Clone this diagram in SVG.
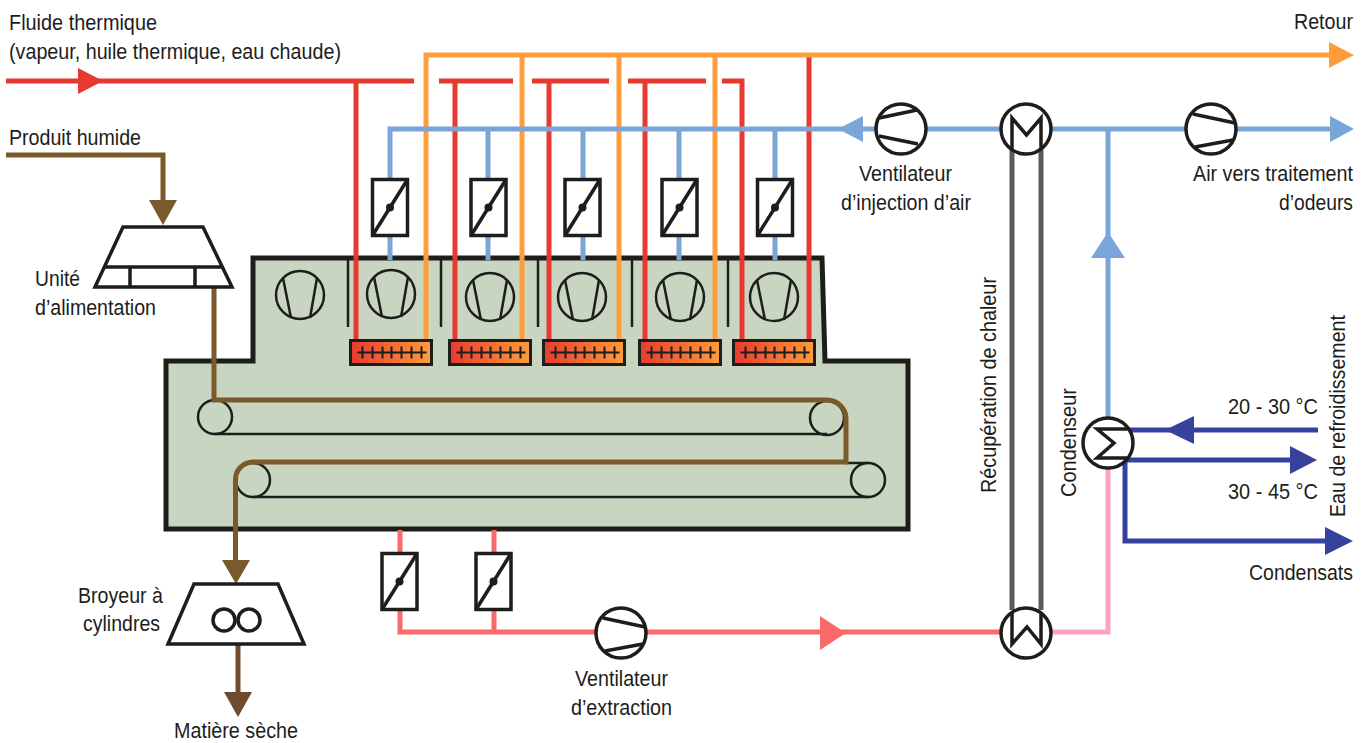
<svg xmlns="http://www.w3.org/2000/svg" xmlns:xlink="http://www.w3.org/1999/xlink" width="1371" height="743" viewBox="0 0 1371 743">
<style>
.t{font-family:"Liberation Sans",Arial,sans-serif;font-size:21.500px;fill:#1d1d1b}
.l{fill:none;stroke-linejoin:miter}
.red{stroke:#e63a30;stroke-width:5}
.org{stroke:#ff9d3b;stroke-width:5}
.blu{stroke:#7aa5d8;stroke-width:5}
.sal{stroke:#fb6a6a;stroke-width:5}
.pnk{stroke:#ffa3bd;stroke-width:5}
.nav{stroke:#36429c;stroke-width:5}
.bro{stroke:#7a5a2b;stroke-width:5}
.dbr{stroke:#6f4a2d;stroke-width:5}
.gry{stroke:#5a5a58;stroke-width:5}
.k{fill:none;stroke:#1d1d1b;stroke-width:2.500}
.k2{fill:none;stroke:#1d1d1b;stroke-width:3.500}
.kw{fill:#fff;stroke:#1d1d1b;stroke-width:3.500}
</style>
<defs>
<linearGradient id="hg" x1="0" x2="1" y1="0" y2="0"><stop offset="0" stop-color="#e63a30"/><stop offset="1" stop-color="#ff9d3b"/></linearGradient>
<g id="fanV"><circle r="24" class="k"/><path d="M-17-17L-9 23M17-17L10 23" class="k"/></g>
<g id="fanH1"><circle r="25" class="kw"/><path d="M-22-11L16-19M-22 7L17 15" class="k2"/></g>
<g id="fanH2"><circle r="25" class="kw"/><path d="M-18-15L24-6M-16 18L22 11" class="k2"/></g>
<g id="damper"><rect x="-17.500" y="-28" width="35" height="56" class="kw"/><path d="M-17.500 28L17.500-28" class="k2"/><circle r="4" fill="#1d1d1b"/></g>
<g id="heater"><rect x="0" y="0" width="81" height="24" fill="url(#hg)" stroke="#1d1d1b" stroke-width="3"/><path d="M7 12H76M12 6V18M22 6V18M32 6V18M41 6V18M51 6V18M61 6V18M71 6V18" fill="none" stroke="#1d1d1b" stroke-width="2"/></g>
</defs>

<g id="dryer-body">
<path d="M166 361H253V258H822L825 361H908V529H166Z" fill="#c8d6c1" stroke="#1d1d1b" stroke-width="5"/>
<path d="M348 258V327M441 258V327M538 258V327M632 258V327M728 258V327" class="k"/>
</g>
<g id="fans-internal">
<use xlink:href="#fanV" href="#fanV" x="300" y="295"/>
<use xlink:href="#fanV" href="#fanV" x="391" y="294"/>
<use xlink:href="#fanV" href="#fanV" x="490" y="297"/>
<use xlink:href="#fanV" href="#fanV" x="582" y="297"/>
<use xlink:href="#fanV" href="#fanV" x="680" y="297"/>
<use xlink:href="#fanV" href="#fanV" x="774" y="297"/>
</g>
<g id="belts">
<path d="M215 434H827M253 497H868M846 463H868" class="k"/>
<circle cx="215" cy="417" r="17" class="k"/>
<circle cx="827" cy="418" r="17" class="k"/>
<circle cx="253" cy="480" r="17" class="k"/>
<circle cx="868" cy="480" r="17" class="k"/>
</g>

<g id="connectors">
<g id="steam">
<path d="M6 81H414M439 81H513M532 81H609M628 81H706M722 81H742V340" class="l red"/>
<path d="M356 81V340M455 81V340M549 81V340M645 81V340M809 57V340" class="l red"/>
<path d="M78 68L103 81L78 94Z" fill="#e63a30"/>
</g>
<g id="return">
<path d="M426 340V55H1332M522 55V340M619 55V340M715 55V340" class="l org"/>
<path d="M1329 42L1354 55L1329 68Z" fill="#ff9d3b"/>
</g>
<g id="air-in">
<path d="M390 179V129H876M488 129V179M583 129V179M679 129V179M775 129V179" class="l blu"/>
<path d="M390 236V260M488 236V260M583 236V260M679 236V260M775 236V260" class="l blu"/>
<path d="M926 129H1003M1050 129H1187M1237 129H1332M1108 129V418" class="l blu"/>
<path d="M838 129L863 116V142Z" fill="#7aa5d8"/>
<path d="M1330 116L1354 129L1330 142Z" fill="#7aa5d8"/>
<path d="M1091 258L1108 232L1125 258Z" fill="#7aa5d8"/>
</g>
<g id="air-out">
<path d="M400 530V553M494 530V553M400 610V632H597M494 610V632M647 632H1003" class="l sal"/>
<path d="M820 616L846 633L820 650Z" fill="#fb6a6a"/>
<path d="M1050 632H1108V468" class="l pnk"/>
</g>
<g id="heat-recovery">
<path d="M1012 150V610M1041 150V610" class="l gry"/>
</g>
<g id="cooling">
<path d="M1128 430H1318M1125 460H1292M1125 460V541H1327" class="l nav"/>
<path d="M1165 430L1194 416V444Z" fill="#36429c"/>
<path d="M1290 446L1317 460L1290 474Z" fill="#36429c"/>
<path d="M1325 527L1353 541L1325 555Z" fill="#36429c"/>
</g>
<g id="product">
<path d="M6 155H163V202" class="l bro"/>
<path d="M149 200H177L163 225Z" fill="#7a5a2b"/>
<path d="M214 288V400H827A19 19 0 0 1 846 419V462H253A17.500 17.500 0 0 0 235.500 480V562" class="l bro"/>
<path d="M222 560H250L236 584Z" fill="#7a5a2b"/>
<path d="M238 645V694" class="l dbr"/>
<path d="M224 692H252L238 717Z" fill="#6f4a2d"/>
</g>
</g>

<g id="heaters">
<use xlink:href="#heater" href="#heater" x="350.500" y="340.500"/>
<use xlink:href="#heater" href="#heater" x="449.500" y="340.500"/>
<use xlink:href="#heater" href="#heater" x="543.500" y="340.500"/>
<use xlink:href="#heater" href="#heater" x="639.500" y="340.500"/>
<use xlink:href="#heater" href="#heater" x="733.500" y="340.500"/>
</g>
<g id="dampers">
<use xlink:href="#damper" href="#damper" x="390" y="207.500"/>
<use xlink:href="#damper" href="#damper" x="488.500" y="207.500"/>
<use xlink:href="#damper" href="#damper" x="582.500" y="207.500"/>
<use xlink:href="#damper" href="#damper" x="679.500" y="207.500"/>
<use xlink:href="#damper" href="#damper" x="775" y="207.500"/>
<use xlink:href="#damper" href="#damper" x="399.500" y="581.500"/>
<use xlink:href="#damper" href="#damper" x="493.500" y="581.500"/>
</g>
<g id="fan-injection"><use xlink:href="#fanH1" href="#fanH1" x="901" y="129"/></g>
<g id="fan-treatment"><use xlink:href="#fanH2" href="#fanH2" x="1211" y="129"/></g>
<g id="fan-extraction"><use xlink:href="#fanH2" href="#fanH2" x="621" y="633"/></g>
<g id="exchanger-top">
<circle cx="1026" cy="129" r="25" class="kw"/>
<path d="M1012 150V118L1026.500 135L1041 118V150" class="k2"/>
</g>
<g id="exchanger-bottom">
<circle cx="1026" cy="633" r="25" class="kw"/>
<path d="M1012 612V644L1027 627L1041 644V612" class="k2"/>
</g>
<g id="condenser">
<circle cx="1108" cy="443" r="25" class="kw"/>
<path d="M1128 429H1097L1114 443L1097 458H1128" class="k2"/>
</g>
<g id="feed-unit">
<path d="M123 227H203L232 287H95Z" fill="#fff" stroke="#1d1d1b" stroke-width="3.500"/>
<path d="M104 267H223M130 267V287M195 267V287" class="k2"/>
</g>
<g id="mill">
<path d="M194 584H278L304 644H168Z" fill="#fff" stroke="#1d1d1b" stroke-width="3.500"/>
<circle cx="224" cy="620" r="11" class="k2"/>
<circle cx="249" cy="620" r="11" class="k2"/>
</g>

<g id="labels">
<text class="t" x="9" y="30" textLength="148" lengthAdjust="spacingAndGlyphs">Fluide thermique</text>
<text class="t" x="9" y="59" textLength="332" lengthAdjust="spacingAndGlyphs">(vapeur, huile thermique, eau chaude)</text>
<text class="t" x="1294" y="29" textLength="59" lengthAdjust="spacingAndGlyphs">Retour</text>
<text class="t" x="9" y="145" textLength="132" lengthAdjust="spacingAndGlyphs">Produit humide</text>
<text class="t" x="35" y="286" textLength="45" lengthAdjust="spacingAndGlyphs">Unité</text>
<text class="t" x="35" y="315" textLength="121" lengthAdjust="spacingAndGlyphs">d’alimentation</text>
<text class="t" x="859" y="181" textLength="93" lengthAdjust="spacingAndGlyphs">Ventilateur</text>
<text class="t" x="841" y="210" textLength="130" lengthAdjust="spacingAndGlyphs">d’injection d’air</text>
<text class="t" x="1193" y="181" textLength="160" lengthAdjust="spacingAndGlyphs">Air vers traitement</text>
<text class="t" x="1279" y="210" textLength="74" lengthAdjust="spacingAndGlyphs">d’odeurs</text>
<text class="t" transform="translate(996 493) rotate(-90)" textLength="216" lengthAdjust="spacingAndGlyphs">Récupération de chaleur</text>
<text class="t" transform="translate(1076 497) rotate(-90)" textLength="109" lengthAdjust="spacingAndGlyphs">Condenseur</text>
<text class="t" transform="translate(1345 517) rotate(-90)" textLength="202" lengthAdjust="spacingAndGlyphs">Eau de refroidissement</text>
<text class="t" x="1228" y="414" textLength="90" lengthAdjust="spacingAndGlyphs">20 - 30 °C</text>
<text class="t" x="1228" y="499" textLength="90" lengthAdjust="spacingAndGlyphs">30 - 45 °C</text>
<text class="t" x="1249" y="580" textLength="104" lengthAdjust="spacingAndGlyphs">Condensats</text>
<text class="t" x="78" y="603" textLength="85" lengthAdjust="spacingAndGlyphs">Broyeur à</text>
<text class="t" x="83" y="631" textLength="77" lengthAdjust="spacingAndGlyphs">cylindres</text>
<text class="t" x="575" y="686" textLength="93" lengthAdjust="spacingAndGlyphs">Ventilateur</text>
<text class="t" x="571" y="715" textLength="101" lengthAdjust="spacingAndGlyphs">d’extraction</text>
<text class="t" x="174" y="738" textLength="124" lengthAdjust="spacingAndGlyphs">Matière sèche</text>
</g>
</svg>
